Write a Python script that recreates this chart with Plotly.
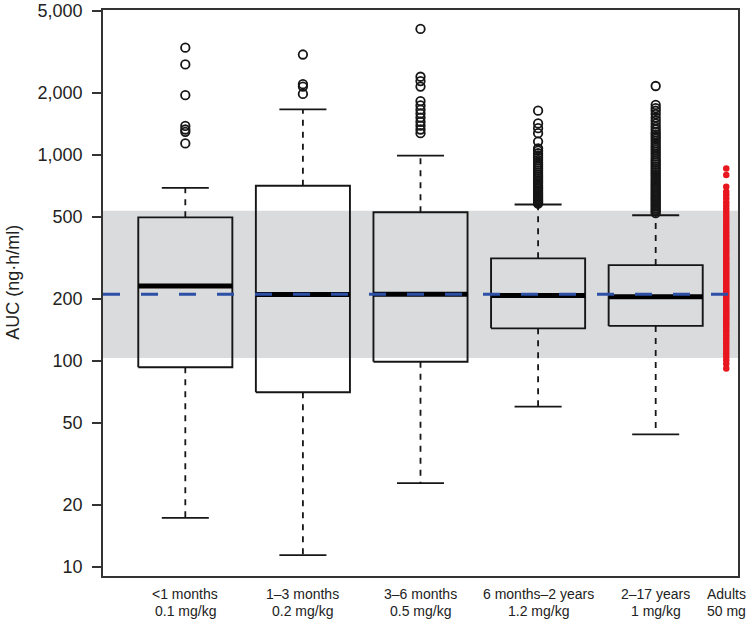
import plotly.graph_objects as go

# ---------------- data ----------------
label_line1 = ["<1 months", "1–3 months", "3–6 months", "6 months–2 years", "2–17 years", "Adults"]
label_line2 = ["0.1 mg/kg", "0.2 mg/kg", "0.5 mg/kg", "1.2 mg/kg", "1 mg/kg", "50 mg"]
positions = [1, 2, 3, 4, 5, 5.6]

lower_whisker = [17.3, 11.4, 25.5, 60, 44]
q1 = [93.2, 70.5, 99.2, 144, 148]
median = [231, 210, 211, 208, 205]
q3 = [498, 709, 527, 315, 292]
upper_whisker = [693, 1667, 993, 575, 510]

outliers = [
    [3319, 2754, 1953, 1384, 1330, 1296, 1138],
    [3075, 2207, 2150, 1979],
    [4093, 2399, 2285, 2148, 1828, 1740, 1660, 1590, 1520, 1450, 1390, 1330, 1277],
    [1641, 1424, 1349, 1277, 1162, 1077, 1050, 1020, 995, 970, 945, 920, 900, 880,
     860, 840, 820, 800, 785, 770, 755, 740, 725, 710, 698, 686, 674, 662, 651, 640,
     630, 620, 611, 602, 594, 586, 580],
    [2163, 1750, 1690, 1640, 1580, 1520, 1470, 1420, 1370, 1330, 1290, 1260, 1230,
     1200, 1170, 1140, 1110, 1085, 1060, 1035, 1010, 985, 960, 940, 920, 900, 880,
     860, 842, 825, 808, 792, 776, 760, 745, 730, 716, 702, 688, 675, 662, 650, 638,
     626, 615, 604, 593, 582, 572, 562, 552, 542, 532, 522],
]

adults_auc = [861, 800, 702, 664, 640, 615, 590, 568, 548, 530, 512, 495, 478, 462,
              447, 433, 420, 408, 396, 385, 374, 364, 354, 345, 336, 327, 319, 311,
              303, 296, 289, 282, 275, 268, 262, 256, 250, 244, 238, 232, 226, 221,
              216, 211, 206, 201, 196, 191, 186, 181, 177, 173, 169, 165, 161, 157,
              153, 149, 145, 141, 137, 133, 129, 125, 121, 117, 113, 109, 105, 101,
              97, 92]

target_auc = 211
band_range = [103.4, 536]

y_ticks = [10, 20, 50, 100, 200, 500, 1000, 2000, 5000]
y_tick_text = ["10", "20", "50", "100", "200", "500", "1,000", "2,000", "5,000"]

# ---------------- styles ----------------
X_RANGE = [0.3, 5.7]
BOX_HALF = 0.4
CAP_HALF = 0.2
INK = "#161616"
BAND = "#dadbdc"
BLUE = "#2b50a6"
RED = "#e8161f"
FONT = "Liberation Sans, Arial, sans-serif"

fig = go.Figure()

# grey reference band
fig.add_trace(go.Scatter(
    x=[X_RANGE[0], X_RANGE[1], X_RANGE[1], X_RANGE[0], X_RANGE[0]],
    y=[band_range[0], band_range[0], band_range[1], band_range[1], band_range[0]],
    mode="lines", fill="toself", fillcolor=BAND, line=dict(width=0),
    hoverinfo="skip", showlegend=False))

for i in range(5):
    p = positions[i]
    # box
    fig.add_trace(go.Scatter(
        x=[p - BOX_HALF, p + BOX_HALF, p + BOX_HALF, p - BOX_HALF, p - BOX_HALF],
        y=[q1[i], q1[i], q3[i], q3[i], q1[i]],
        mode="lines", line=dict(color=INK, width=1.9), showlegend=False))
    # whiskers (dashed)
    for a, b in ((q3[i], upper_whisker[i]), (q1[i], lower_whisker[i])):
        fig.add_trace(go.Scatter(
            x=[p, p], y=[a, b], mode="lines",
            line=dict(color=INK, width=1.8, dash="6px,6px"), showlegend=False))
    # caps
    for v in (upper_whisker[i], lower_whisker[i]):
        fig.add_trace(go.Scatter(
            x=[p - CAP_HALF, p + CAP_HALF], y=[v, v], mode="lines",
            line=dict(color=INK, width=1.8), showlegend=False))
    # median
    fig.add_trace(go.Scatter(
        x=[p - BOX_HALF, p + BOX_HALF], y=[median[i], median[i]], mode="lines",
        line=dict(color="#000000", width=5), showlegend=False))
    # outliers
    fig.add_trace(go.Scatter(
        x=[p] * len(outliers[i]), y=outliers[i], mode="markers",
        marker=dict(symbol="circle-open", size=8.5, color=INK, line=dict(width=1.8)),
        showlegend=False))

# adults
fig.add_trace(go.Scatter(
    x=[positions[5]] * len(adults_auc), y=adults_auc, mode="markers",
    marker=dict(symbol="circle", size=6.5, color=RED), showlegend=False))

# target line
fig.add_trace(go.Scatter(
    x=X_RANGE, y=[target_auc, target_auc], mode="lines",
    line=dict(color=BLUE, width=3, dash="17px,21px"), showlegend=False))

annotations = []
for p, t1, t2 in zip(positions, label_line1, label_line2):
    annotations.append(dict(x=p, xref="x", y=0, yref="paper", text=t1, showarrow=False,
                            xanchor="center", yanchor="top", yshift=-8,
                            font=dict(size=14, color="#222", family=FONT)))
    annotations.append(dict(x=p, xref="x", y=0, yref="paper", text=t2, showarrow=False,
                            xanchor="center", yanchor="top", yshift=-25,
                            font=dict(size=14, color="#222", family=FONT)))
annotations.append(dict(x=-0.141, xref="paper", y=0.519, yref="paper",
                        text="AUC (ng·h/ml)", textangle=-90, showarrow=False,
                        xanchor="center", yanchor="middle",
                        font=dict(size=18, color="#222", family=FONT)))

fig.update_layout(
    width=750, height=623,
    margin=dict(l=103, r=12, t=10, b=47, autoexpand=False),
    plot_bgcolor="white", paper_bgcolor="white",
    font=dict(family=FONT, color="#222"),
    annotations=annotations,
    showlegend=False,
)
fig.update_xaxes(range=X_RANGE, showticklabels=False, ticks="", showgrid=False,
                 zeroline=False, showline=True, mirror=True, linecolor="#333", linewidth=1.6,
                 automargin=False)
fig.update_yaxes(type="log", range=[0.956, 3.704], tickvals=y_ticks, ticktext=y_tick_text,
                 ticks="outside", ticklen=9, tickwidth=1.6, tickcolor="#333",
                 tickfont=dict(size=18, color="#222", family=FONT), ticklabelstandoff=6,
                 showgrid=False, zeroline=False, showline=True, mirror=True,
                 linecolor="#333", linewidth=1.6, automargin=False)

fig.write_html("out.html", config={"displayModeBar": False},
               post_script="document.body.style.margin='0';")
